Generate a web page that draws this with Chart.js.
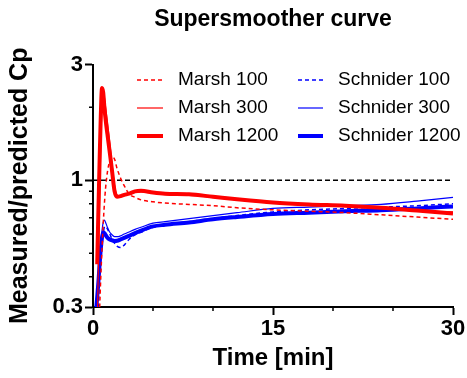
<!DOCTYPE html>
<html>
<head>
<meta charset="utf-8">
<script src="https://cdn.jsdelivr.net/npm/chart.js@4"></script>
<style>
  html, body { margin: 0; padding: 0; background: #fff; }
  #box { width: 467px; height: 378px; }
</style>
</head>
<body>
<div id="box"><canvas id="grafico"></canvas></div>
<script>
// tempo em minutos (eixo x)
const tempo = [0.25, 0.35, 0.45, 0.55, 0.65, 0.75, 0.85, 0.95, 1.05, 1.2, 1.4, 1.6, 1.8, 2.0, 2.3, 2.6, 3.0, 3.5, 4, 5, 6, 8, 10, 12, 15, 18, 21, 24, 27, 30];

const marsh100 = [null, null, 0.2, 0.29, 0.4, 0.52, 0.66, 0.8, 0.93, 1.08, 1.2, 1.25, 1.22, 1.12, 1.02, 0.95, 0.88, 0.85, 0.83, 0.815, 0.805, 0.795, 0.785, 0.77, 0.755, 0.745, 0.735, 0.72, 0.705, 0.69];
const marsh300 = [null, 0.25, 0.45, 0.8, 1.4, 2.0, 2.25, 2.2, 2.0, 1.75, 1.43, 1.15, 0.95, 0.87, 0.86, 0.865, 0.875, 0.89, 0.895, 0.885, 0.875, 0.865, 0.85, 0.83, 0.805, 0.79, 0.78, 0.765, 0.75, 0.74];
const marsh1200 = [null, 0.45, 0.75, 1.2, 1.85, 2.4, 2.3, 2.0, 1.78, 1.55, 1.3, 1.08, 0.9, 0.855, 0.86, 0.87, 0.88, 0.9, 0.905, 0.89, 0.88, 0.875, 0.855, 0.835, 0.81, 0.795, 0.785, 0.77, 0.75, 0.73];
const schnider100 = [null, 0.2, 0.3, 0.38, 0.46, 0.54, 0.6, 0.64, 0.645, 0.63, 0.6, 0.57, 0.55, 0.535, 0.528, 0.54, 0.57, 0.595, 0.61, 0.64, 0.655, 0.675, 0.695, 0.715, 0.74, 0.755, 0.765, 0.775, 0.785, 0.8];
const schnider300 = [0.28, 0.33, 0.4, 0.47, 0.55, 0.62, 0.67, 0.685, 0.67, 0.64, 0.61, 0.595, 0.585, 0.585, 0.59, 0.6, 0.612, 0.627, 0.64, 0.665, 0.675, 0.695, 0.715, 0.735, 0.765, 0.775, 0.785, 0.795, 0.82, 0.85];
const schnider1200 = [0.29, 0.33, 0.38, 0.45, 0.52, 0.58, 0.61, 0.605, 0.595, 0.58, 0.57, 0.565, 0.562, 0.563, 0.57, 0.578, 0.59, 0.605, 0.62, 0.645, 0.655, 0.67, 0.69, 0.705, 0.725, 0.735, 0.745, 0.752, 0.765, 0.78];

// linha de referencia em 1
const refX = [0, 30];
const refY = [1, 1];

const ticksX = [0, 15, 30];
const ticksY = [0.3, 1, 3];
const menoresX = [5, 10, 20, 25];
const menoresY = [0.4, 0.5, 0.6, 0.7, 0.8, 0.9, 2];

const fonte = '"Liberation Sans", Arial, sans-serif';

function pontos(xs, ys) {
  const out = [];
  for (let i = 0; i < xs.length; i++) {
    if (ys[i] !== null) out.push({ x: xs[i], y: ys[i] });
  }
  return out;
}

function serie(label, ys, cor, largura, tracejado) {
  return {
    label: label,
    data: pontos(tempo, ys),
    borderColor: cor,
    borderWidth: largura,
    borderDash: tracejado ? [4, 3] : [],
    pointRadius: 0,
    fill: false,
    cubicInterpolationMode: 'monotone'
  };
}

// tracos menores dos eixos
const tracosMenores = {
  id: 'tracosMenores',
  afterDraw(chart) {
    const ctx = chart.ctx;
    const x = chart.scales.x;
    const y = chart.scales.y;
    ctx.save();
    ctx.strokeStyle = '#000';
    ctx.lineWidth = 1.5;
    ctx.beginPath();
    menoresX.forEach(v => {
      const px = x.getPixelForValue(v);
      ctx.moveTo(px, x.top);
      ctx.lineTo(px, x.top + 4);
    });
    menoresY.forEach(v => {
      const py = y.getPixelForValue(v);
      ctx.moveTo(y.right, py);
      ctx.lineTo(y.right - 4, py);
    });
    ctx.stroke();
    ctx.restore();
  }
};

// legenda em duas colunas dentro do grafico
const legenda = {
  id: 'legenda',
  afterDraw(chart) {
    const ctx = chart.ctx;
    const colunas = [[137, 163, 178], [298, 323, 338]];
    const linhas = [80, 108, 136];
    ctx.save();
    ctx.font = '19px ' + fonte;
    ctx.textBaseline = 'middle';
    ctx.textAlign = 'left';
    for (let i = 0; i < 6; i++) {
      const ds = chart.data.datasets[i];
      const c = colunas[Math.floor(i / 3)];
      const yy = linhas[i % 3];
      ctx.strokeStyle = ds.borderColor;
      ctx.lineWidth = ds.borderWidth;
      ctx.setLineDash(ds.borderDash);
      ctx.beginPath();
      ctx.moveTo(c[0], yy);
      ctx.lineTo(c[1], yy);
      ctx.stroke();
      ctx.setLineDash([]);
      ctx.fillStyle = '#000';
      ctx.fillText(ds.label, c[2], yy);
    }
    ctx.restore();
  }
};

new Chart(document.getElementById('grafico'), {
  type: 'line',
  data: {
    datasets: [
      serie('Marsh 100', marsh100, '#ff0000', 1.5, true),
      serie('Marsh 300', marsh300, '#ff0000', 1.2, false),
      serie('Marsh 1200', marsh1200, '#ff0000', 4, false),
      serie('Schnider 100', schnider100, '#0000ff', 1.5, true),
      serie('Schnider 300', schnider300, '#0000ff', 1.2, false),
      serie('Schnider 1200', schnider1200, '#0000ff', 4, false),
      {
        label: 'ref',
        data: pontos(refX, refY),
        borderColor: '#000',
        borderWidth: 1.5,
        borderDash: [5, 3],
        pointRadius: 0,
        fill: false
      }
    ]
  },
  options: {
    responsive: true,
    maintainAspectRatio: false,
    animation: false,
    layout: { padding: { left: 0, right: 14, top: 0, bottom: 0 } },
    plugins: {
      legend: { display: false },
      tooltip: { enabled: false },
      title: {
        display: true,
        fullSize: false,
        text: 'Supersmoother curve',
        color: '#000',
        font: { family: fonte, size: 23, weight: 'bold' },
        padding: { top: 6, bottom: 31 }
      }
    },
    scales: {
      x: {
        type: 'linear',
        min: 0,
        max: 30,
        afterFit: s => { s.height = 71; },
        afterBuildTicks: s => { s.ticks = ticksX.map(v => ({ value: v })); },
        ticks: {
          color: '#000',
          padding: 1,
          font: { family: fonte, size: 22, weight: 'bold' },
          callback: v => String(v)
        },
        grid: { drawOnChartArea: false, tickLength: 8, tickWidth: 2, tickColor: '#000' },
        border: { color: '#000', width: 2 },
        title: {
          display: true,
          text: 'Time [min]',
          color: '#000',
          font: { family: fonte, size: 24, weight: 'bold' },
          padding: { top: 0, bottom: 5 }
        }
      },
      y: {
        type: 'logarithmic',
        min: 0.3,
        max: 3,
        afterFit: s => { s.width = 93; },
        afterBuildTicks: s => { s.ticks = ticksY.map(v => ({ value: v })); },
        ticks: {
          color: '#000',
          padding: 2,
          font: { family: fonte, size: 22, weight: 'bold' },
          callback: v => String(v)
        },
        grid: { drawOnChartArea: false, tickLength: 8, tickWidth: 2, tickColor: '#000' },
        border: { color: '#000', width: 2 },
        title: {
          display: true,
          text: 'Measured/predicted Cp',
          color: '#000',
          font: { family: fonte, size: 25, weight: 'bold' },
          padding: { top: 5, bottom: 0 }
        }
      }
    }
  },
  plugins: [tracosMenores, legenda]
});
</script>
</body>
</html>
